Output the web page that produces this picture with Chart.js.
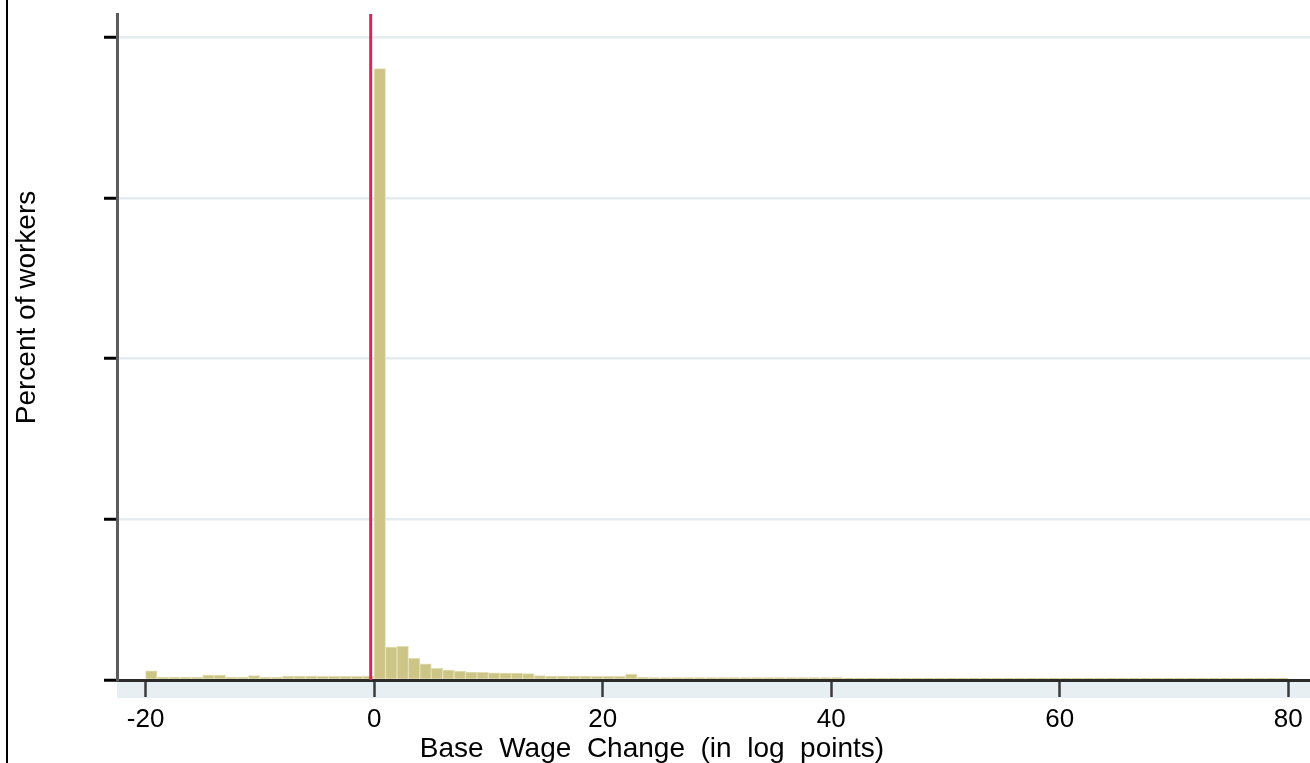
<!DOCTYPE html>
<html>
<head>
<meta charset="utf-8">
<style>
  html, body { margin: 0; padding: 0; background: #ffffff; }
  #wrap { position: absolute; left: 0; top: 0; width: 1310px; height: 763px; }
</style>
<script src="https://cdn.jsdelivr.net/npm/chart.js@4.4.1/dist/chart.umd.min.js"></script>
</head>
<body>
<div id="wrap"><canvas id="c" width="1310" height="763"></canvas></div>
<script>
// ---- data ----
const binLefts = [
  -20,-19,-18,-17,-16,-15,-14,-13,-12,-11,-10,-9,-8,-7,-6,-5,-4,-3,-2,-1,
  0,1,2,3,4,5,6,7,8,9,10,11,12,13,14,15,16,17,18,19,
  20,21,22,23,24,25,26,27,28,29,30,31,32,33,34,35,36,37,38,39,
  40,41,42,43,44,45,46,47,48,49,50,51,52,53,54,55,56,57,58,59,
  60,61,62,63,64,65,66,67,68,69,70,71,72,73,74,75,76,77,78,79
];
const percentWorkers = [
  1.15,0.35,0.35,0.35,0.35,0.6,0.6,0.35,0.35,0.55,0.35,0.35,0.5,0.5,0.5,0.45,0.45,0.45,0.45,0.5,
  76.1,4.1,4.2,2.7,2.0,1.45,1.25,1.1,1.0,0.95,0.9,0.85,0.85,0.8,0.55,0.5,0.5,0.5,0.5,0.45,
  0.45,0.45,0.75,0.35,0.3,0.3,0.3,0.3,0.3,0.3,0.3,0.3,0.3,0.3,0.3,0.3,0.3,0.3,0.3,0.3,
  0.3,0.25,0.25,0.25,0.25,0.25,0.25,0.25,0.25,0.25,0.25,0.25,0.25,0.25,0.25,0.25,0.25,0.25,0.25,0.25,
  0.25,0.25,0.25,0.25,0.25,0.25,0.25,0.25,0.25,0.25,0.25,0.25,0.25,0.25,0.25,0.25,0.25,0.25,0.25,0.25
];
const binWidth = 1;
const xTickValues = [-20, 0, 20, 40, 60, 80];
const yTickValues = [0, 20, 40, 60, 80];
const xRange = [-22.5, 81.9];
const yRange = [0, 82.9];
const referenceX = -0.3;
const xTitle = 'Base  Wage  Change  (in  log  points)';
const yTitle = 'Percent of workers';

// ---- build ----
const barData = binLefts.map((b, i) => ({ x: b + binWidth / 2, y: percentWorkers[i] }));
const refLine = [{ x: referenceX, y: yRange[0] }, { x: referenceX, y: yRange[1] }];

const decor = {
  id: 'decor',
  beforeDraw(chart) {
    const { ctx, chartArea } = chart;
    ctx.save();
    ctx.fillStyle = '#e8eff2';
    ctx.fillRect(chartArea.left, chartArea.bottom + 1, chart.width - chartArea.left, 17);
    ctx.restore();
  },
  afterDraw(chart) {
    const { ctx } = chart;
    ctx.save();
    // frame line on the left
    ctx.fillStyle = '#000';
    ctx.fillRect(6, 0, 2, chart.height);
    ctx.fillStyle = '#000';
    ctx.font = '28px "Liberation Sans", Arial, sans-serif';
    ctx.textAlign = 'center';
    ctx.textBaseline = 'alphabetic';
    ctx.fillText(xTitle, 652, 757);
    ctx.translate(35, 307.5);
    ctx.rotate(-Math.PI / 2);
    ctx.fillText(yTitle, 0, 0);
    ctx.restore();
  }
};

new Chart(document.getElementById('c'), {
  type: 'bar',
  data: {
    datasets: [
      {
        type: 'line',
        data: refLine,
        borderColor: '#d6245c',
        borderWidth: 3,
        pointRadius: 0,
        order: 0,
        clip: false
      },
      {
        type: 'bar',
        data: barData,
        backgroundColor: '#cdc585',
        borderColor: '#e2deb3',
        borderWidth: 1,
        barPercentage: 1,
        categoryPercentage: 1,
        order: 1
      }
    ]
  },
  options: {
    responsive: false,
    animation: false,
    layout: { padding: { top: 14, right: 0, bottom: 0, left: 0 } },
    plugins: { legend: { display: false }, tooltip: { enabled: false } },
    scales: {
      x: {
        type: 'linear',
        min: xRange[0],
        max: xRange[1],
        offset: false,
        afterFit(scale) { scale.height = 83; },
        afterBuildTicks(scale) { scale.ticks = xTickValues.map(v => ({ value: v })); },
        grid: {
          display: true,
          drawOnChartArea: false,
          offset: false,
          tickLength: 17,
          tickColor: '#3a3a3a',
          tickWidth: 2.5
        },
        border: { display: true, color: '#2b2b2b', width: 3 },
        ticks: {
          color: '#000',
          padding: 7,
          maxRotation: 0,
          autoSkip: false,
          font: { family: '"Liberation Sans", Arial, sans-serif', size: 26 },
          callback: v => String(v)
        }
      },
      y: {
        type: 'linear',
        min: yRange[0],
        max: yRange[1],
        afterFit(scale) { scale.width = 117; },
        afterBuildTicks(scale) { scale.ticks = yTickValues.map(v => ({ value: v })); },
        grid: {
          display: true,
          drawOnChartArea: true,
          color: '#e4ecef',
          lineWidth: 2.5,
          tickLength: 13,
          tickColor: '#000',
          tickWidth: 3
        },
        border: { display: true, color: '#5c5c5c', width: 3 },
        ticks: { display: false }
      }
    }
  },
  plugins: [decor]
});
</script>
</body>
</html>
